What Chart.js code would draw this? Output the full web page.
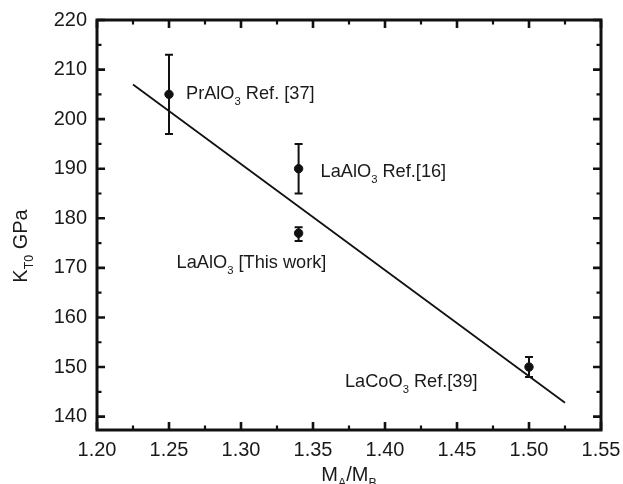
<!DOCTYPE html>
<html>
<head>
<meta charset="utf-8">
<script src="https://cdn.jsdelivr.net/npm/chart.js@4/dist/chart.umd.min.js"></script>
<style>
  html, body { margin: 0; padding: 0; background: #fff; }
  #wrap { width: 623px; height: 484px; position: relative; }
</style>
</head>
<body>
<div id="wrap"><canvas id="c" width="623" height="484"></canvas></div>
<script>
// ---- data ----
const xValues   = [1.25, 1.34, 1.34, 1.50];
const kValues   = [205, 190, 177, 150];
const errUpper  = [213, 195, 178.2, 152];
const errLower  = [197, 185, 175.4, 148];
const pointNames = ['PrAlO_{3} Ref. [37]', 'LaAlO_{3} Ref.[16]', 'LaAlO_{3} [This work]', 'LaCoO_{3} Ref.[39]'];
const fitX = [1.225, 1.525];
const fitY = [207, 142.8];
const xTicks = [1.20, 1.25, 1.30, 1.35, 1.40, 1.45, 1.50, 1.55];
const yTicks = [140, 150, 160, 170, 180, 190, 200, 210, 220];
const xMinorTicks = [1.225, 1.275, 1.325, 1.375, 1.425, 1.475, 1.525];
const yMinorTicks = [145, 155, 165, 175, 185, 195, 205, 215];
const xTitle = 'M_{A}/M_{B}';
const yTitle = 'K_{T0} GPa';

// ---- helpers ----
const FONT = '"Liberation Sans", Arial, Helvetica, sans-serif';
function parseRich(s) {
  const parts = [];
  const re = /_\{([^}]*)\}/g;
  let last = 0, m;
  while ((m = re.exec(s)) !== null) {
    if (m.index > last) parts.push({ t: s.slice(last, m.index), sub: false });
    parts.push({ t: m[1], sub: true });
    last = re.lastIndex;
  }
  if (last < s.length) parts.push({ t: s.slice(last), sub: false });
  return parts;
}
function richWidth(ctx, parts, size) {
  let w = 0;
  for (const p of parts) {
    ctx.font = (p.sub ? size * 0.62 : size) + 'px ' + FONT;
    w += ctx.measureText(p.t).width;
  }
  return w;
}
function drawRich(ctx, text, x, y, size, align) {
  const parts = parseRich(text);
  let cx = x;
  if (align === 'center') cx = x - richWidth(ctx, parts, size) / 2;
  ctx.textBaseline = 'alphabetic';
  ctx.textAlign = 'left';
  for (const p of parts) {
    const fs = p.sub ? size * 0.62 : size;
    ctx.font = fs + 'px ' + FONT;
    ctx.fillText(p.t, cx, p.sub ? y + size * 0.32 : y);
    cx += ctx.measureText(p.t).width;
  }
}

const labelOffsets = [[17, 4.5], [22, 8], [-122, 35], [-184, 20]];

const framePlugin = {
  id: 'framePlugin',
  afterDatasetsDraw(chart) {
    const { ctx, chartArea: a, scales: { x, y } } = chart;
    ctx.save();
    ctx.strokeStyle = '#111';
    ctx.fillStyle = '#111';
    // error bars
    ctx.lineWidth = 2;
    for (let i = 0; i < xValues.length; i++) {
      const px = x.getPixelForValue(xValues[i]);
      const pu = y.getPixelForValue(errUpper[i]);
      const pl = y.getPixelForValue(errLower[i]);
      ctx.beginPath();
      ctx.moveTo(px, pu); ctx.lineTo(px, pl);
      ctx.moveTo(px - 4, pu); ctx.lineTo(px + 4, pu);
      ctx.moveTo(px - 4, pl); ctx.lineTo(px + 4, pl);
      ctx.stroke();
    }
    // point labels
    ctx.fillStyle = '#1a1a1a';
    for (let i = 0; i < xValues.length; i++) {
      const px = x.getPixelForValue(xValues[i]);
      const py = y.getPixelForValue(kValues[i]);
      drawRich(ctx, pointNames[i], px + labelOffsets[i][0], py + labelOffsets[i][1], 18.2, 'left');
    }
    // ticks
    ctx.strokeStyle = '#111';
    function tickX(v, len, w) {
      const px = x.getPixelForValue(v);
      ctx.lineWidth = w;
      ctx.beginPath();
      ctx.moveTo(px, a.bottom); ctx.lineTo(px, a.bottom - len);
      ctx.moveTo(px, a.top); ctx.lineTo(px, a.top + len);
      ctx.stroke();
    }
    function tickY(v, len, w) {
      const py = y.getPixelForValue(v);
      ctx.lineWidth = w;
      ctx.beginPath();
      ctx.moveTo(a.left, py); ctx.lineTo(a.left + len, py);
      ctx.moveTo(a.right, py); ctx.lineTo(a.right - len, py);
      ctx.stroke();
    }
    xTicks.forEach(v => tickX(v, 8, 2.6));
    xMinorTicks.forEach(v => tickX(v, 4.5, 2.2));
    yTicks.forEach(v => tickY(v, 8, 2.6));
    yMinorTicks.forEach(v => tickY(v, 4.5, 2.2));
    // frame
    ctx.lineWidth = 3;
    ctx.strokeRect(a.left, a.top, a.right - a.left, a.bottom - a.top);
    // axis titles
    ctx.fillStyle = '#1a1a1a';
    drawRich(ctx, xTitle, (a.left + a.right) / 2, 481, 20, 'center');
    ctx.translate(27, 246);
    ctx.rotate(-Math.PI / 2);
    drawRich(ctx, yTitle, 0, 0, 20, 'center');
    ctx.restore();
  }
};

new Chart(document.getElementById('c'), {
  data: {
    datasets: [
      {
        type: 'line',
        data: fitX.map((v, i) => ({ x: v, y: fitY[i] })),
        borderColor: '#111',
        borderWidth: 1.8,
        pointRadius: 0,
        fill: false
      },
      {
        type: 'scatter',
        data: xValues.map((v, i) => ({ x: v, y: kValues[i] })),
        backgroundColor: '#111',
        borderColor: '#111',
        pointRadius: 4.2,
        pointHoverRadius: 4.2
      }
    ]
  },
  options: {
    responsive: false,
    animation: false,
    events: [],
    layout: { padding: { top: 20, right: 22, left: 0, bottom: 0 } },
    plugins: { legend: { display: false }, tooltip: { enabled: false } },
    scales: {
      x: {
        type: 'linear',
        min: 1.20, max: 1.55,
        grid: { display: false, drawTicks: false },
        border: { display: false },
        afterBuildTicks: s => { s.ticks = xTicks.map(v => ({ value: v })); },
        afterFit: s => { s.height = 54; s.paddingLeft = 0; s.paddingRight = 0; },
        ticks: {
          padding: 8,
          color: '#1a1a1a',
          font: { family: FONT, size: 20 },
          callback: v => Number(v).toFixed(2)
        }
      },
      y: {
        type: 'linear',
        min: 137.3, max: 220,
        grid: { display: false, drawTicks: false },
        border: { display: false },
        afterBuildTicks: s => { s.ticks = yTicks.map(v => ({ value: v })); },
        afterFit: s => { s.width = 97; s.paddingTop = 0; s.paddingBottom = 0; },
        ticks: {
          padding: 10,
          color: '#1a1a1a',
          font: { family: FONT, size: 20 },
          callback: v => String(v)
        }
      }
    }
  },
  plugins: [framePlugin]
});
</script>
</body>
</html>
